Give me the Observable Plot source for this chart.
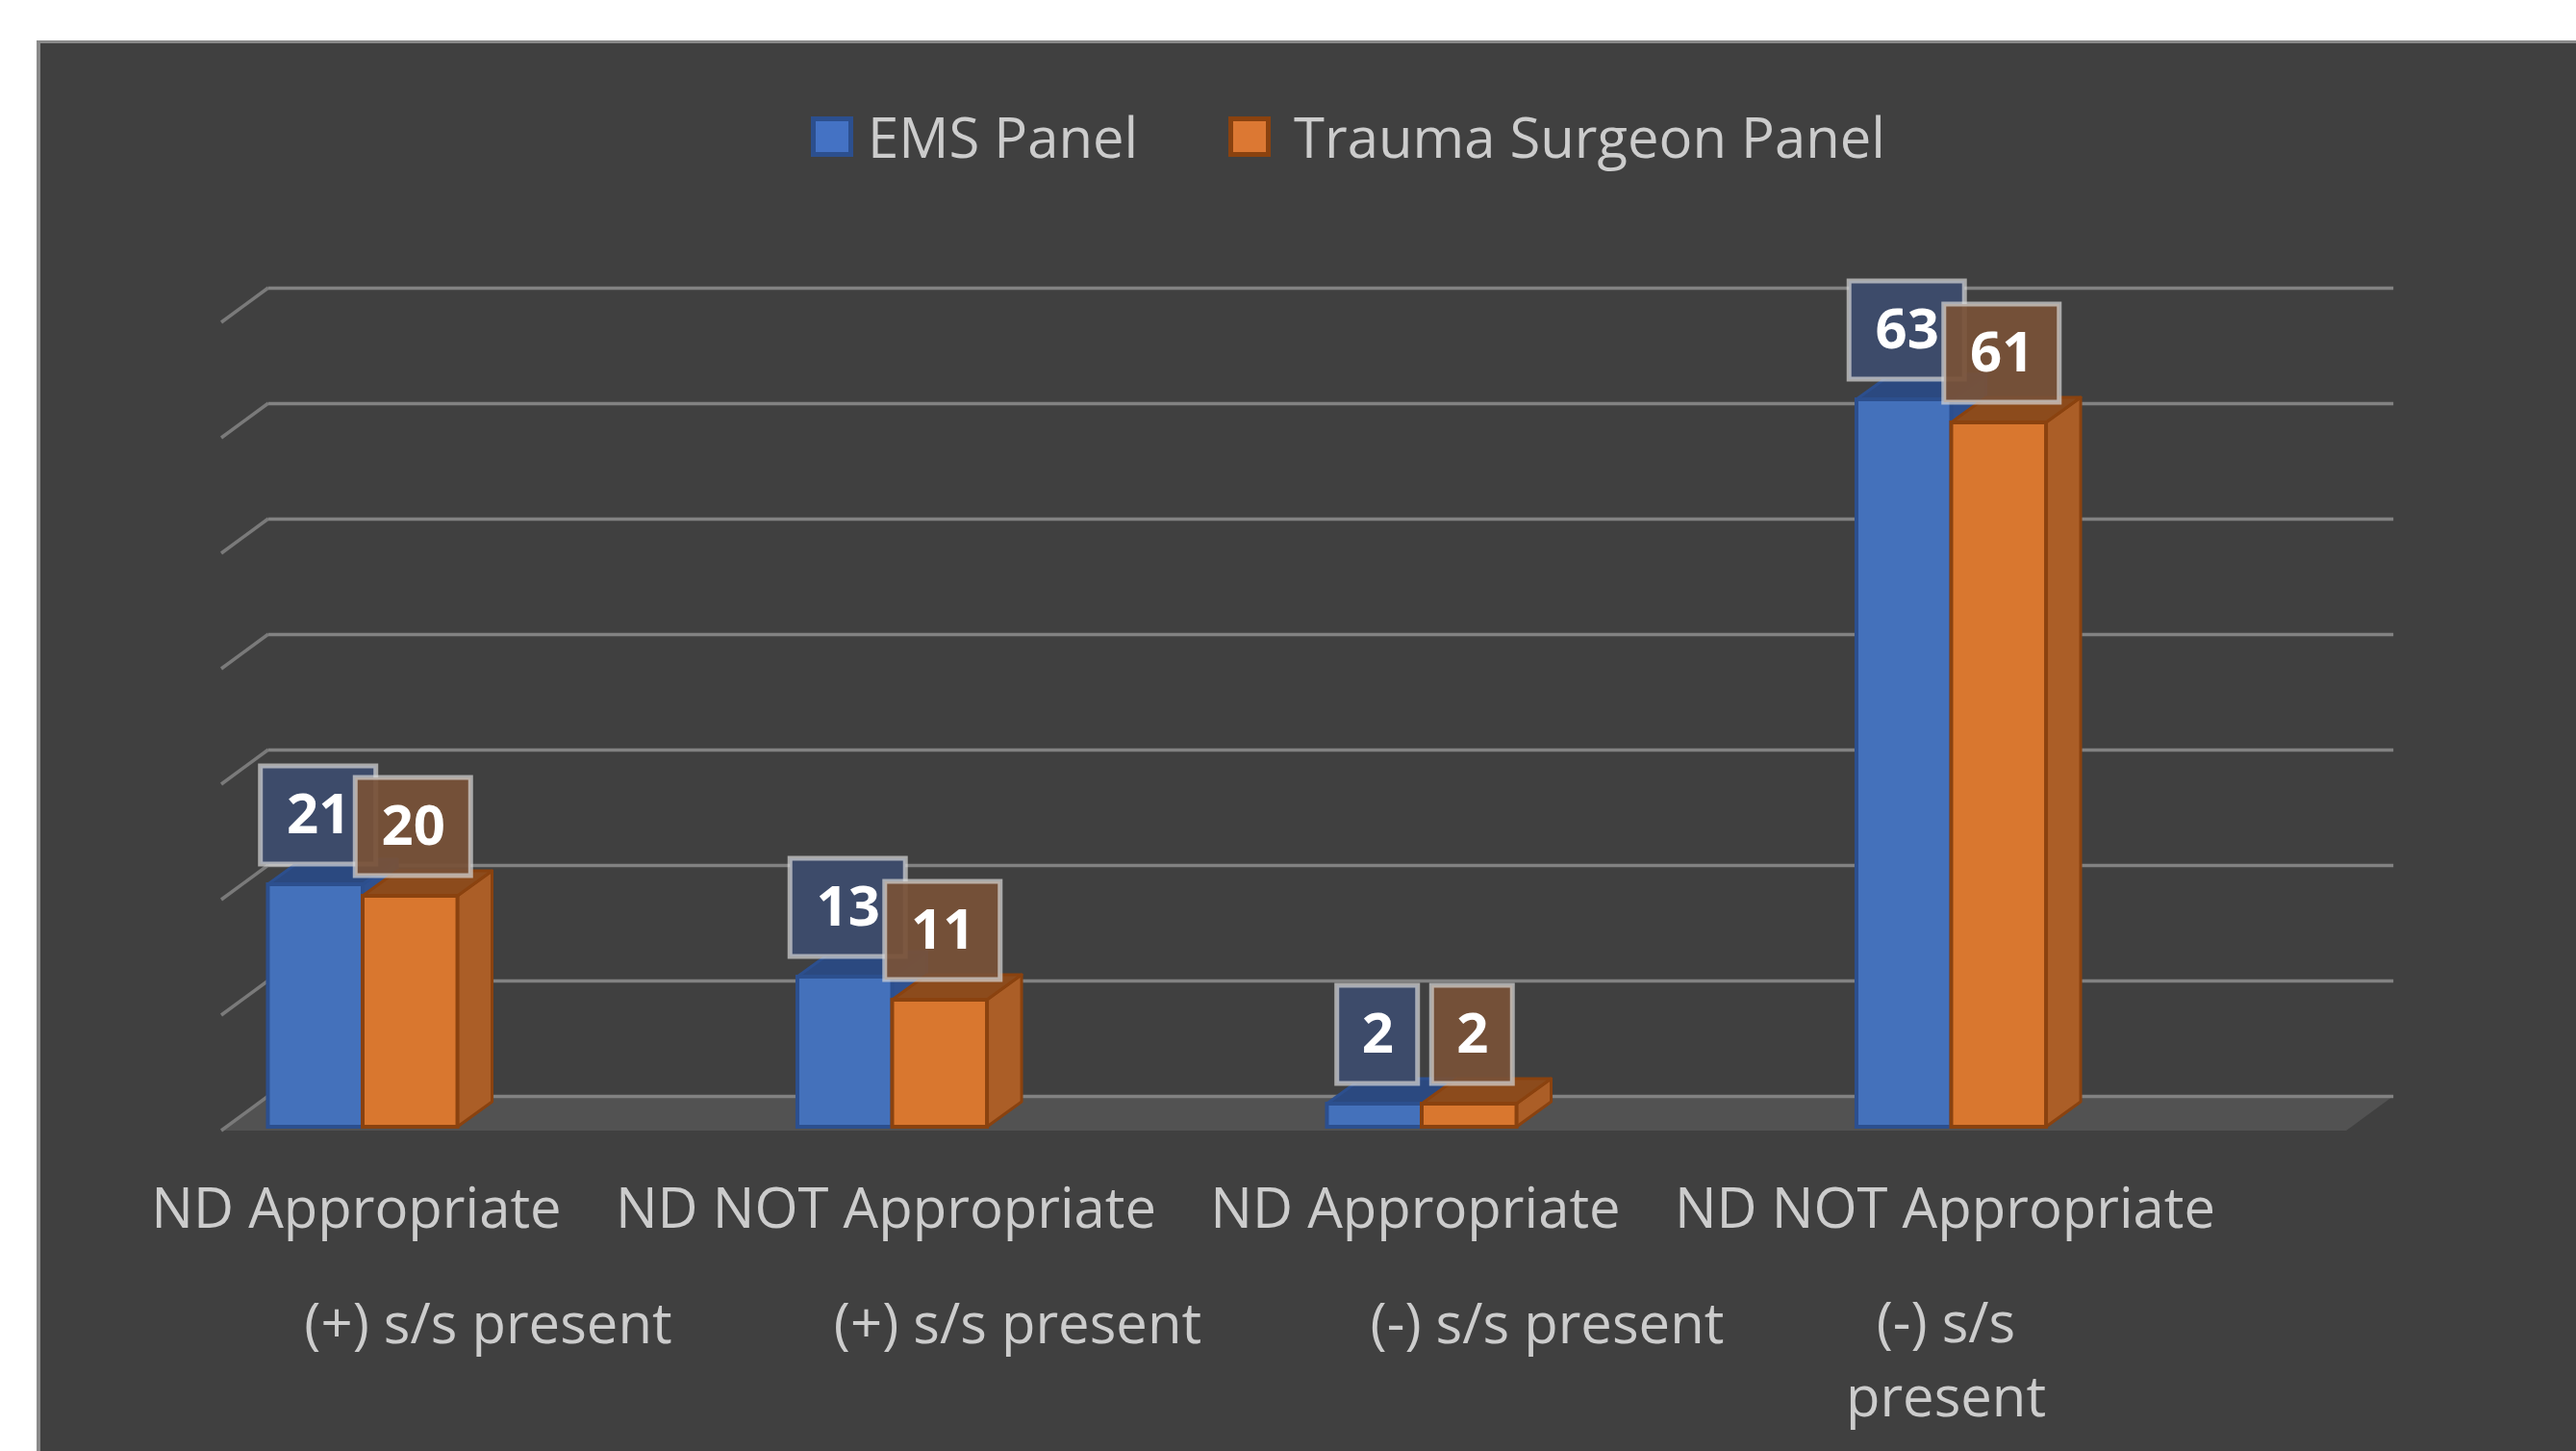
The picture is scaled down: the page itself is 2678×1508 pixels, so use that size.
<!DOCTYPE html>
<html>
<head>
<meta charset="utf-8">
<script src="https://cdn.jsdelivr.net/npm/d3@7"></script>
<script src="https://cdn.jsdelivr.net/npm/@observablehq/plot@0.6"></script>
<style>
  html, body { margin: 0; padding: 0; background: #ffffff; width: 2678px; height: 1508px; overflow: hidden; }
  #panel { position: absolute; left: 38px; top: 42px; width: 2640px; height: 1466px; background: #404040;
           box-shadow: inset 4px 3px 0 #8a8a8a; font-family: "Open Sans", sans-serif; }
  #legend { position: relative; height: 180px; }
  .item { position: absolute; top: 70px; height: 60px; display: flex; align-items: center;
          color: #cccccc; font-size: 58px; line-height: 1; white-space: nowrap; }
  .sw { width: 34px; height: 32px; border: 5px solid; box-sizing: content-box; }
  #chart svg { display: block; }
</style>
</head>
<body>
<div id="panel">
  <div id="legend"></div>
  <div id="chart"></div>
</div>
<script>
// ---------- data ----------
const line1Labels = ["ND Appropriate", "ND NOT Appropriate", "ND Appropriate", "ND NOT Appropriate"];
const line2Labels = ["(+) s/s present", "(+) s/s present", "(-) s/s present", "(-) s/s\npresent"];
const seriesNames = ["EMS Panel", "Trauma Surgeon Panel"];
const emsValues = [21, 13, 2, 63];
const traumaValues = [20, 11, 2, 61];
const gridTicks = [0, 10, 20, 30, 40, 50, 60, 70];

// ---------- styles ----------
const W = 2640, H = 1286;
const BAR_W = 0.179;                 // bar width in category units
const DEPTH = {dx: 36, dy: -26};     // 3D depth of bars (px)
const WALL = {x1: -0.178, x2: 3.835, dx: 49, dy: -32, front: 4};
const COLORS = [
  {front: "#4471bb", edge: "#2c4f8e", side: "#2f5190", top: "#2b4980", box: "#3d4b6a", legendFill: "#4472c4"},
  {front: "#d9772f", edge: "#8a420f", side: "#ab5e27", top: "#8c4b1c", box: "#785238", legendFill: "#dc7833"}
];

// legend
const legend = document.getElementById("legend");
const legendLeft = [805, 1239];
const legendGap = [15, 24];
seriesNames.forEach((name, s) => {
  const it = document.createElement("div");
  it.className = "item";
  it.style.left = legendLeft[s] + "px";
  const sw = document.createElement("div");
  sw.className = "sw";
  sw.style.background = COLORS[s].legendFill;
  sw.style.borderColor = COLORS[s].edge;
  sw.style.marginRight = legendGap[s] + "px";
  const tx = document.createElement("span");
  tx.textContent = name;
  it.appendChild(sw); it.appendChild(tx);
  legend.appendChild(it);
});

// table
const rows = [];
line1Labels.forEach((c, i) => {
  rows.push({i, s: 0, v: emsValues[i]});
  rows.push({i, s: 1, v: traumaValues[i]});
});
const cats = line1Labels.map((l, i) => ({i, l1: l, l2: line2Labels[i]}));
const bx1 = d => d.i + (d.s === 0 ? -BAR_W : 0);
const bx2 = d => d.i + (d.s === 0 ? 0 : BAR_W);
const bxc = d => d.i + (d.s === 0 ? -BAR_W / 2 : BAR_W / 2);

// floor + left stubs
function wallMark(index, scales) {
  const {x, y} = scales;
  const g = d3.create("svg:g");
  const xl = x(WALL.x1), xr = x(WALL.x2);
  const yb = y(0) + WALL.dy, yf = y(0) + WALL.front;
  g.append("path")
    .attr("d", `M${xl},${yb}H${xr}L${xr - WALL.dx},${yf}H${xl - WALL.dx}Z`)
    .attr("fill", "#525252");
  for (const t of gridTicks) {
    g.append("line")
      .attr("x1", xl - WALL.dx).attr("y1", y(t) + WALL.front)
      .attr("x2", xl).attr("y2", y(t) + WALL.dy)
      .attr("stroke", "#7a7a7a").attr("stroke-width", 3.5);
  }
  return g.node();
}

// 3D side + top faces
function depthMark(s) {
  return function (index, scales) {
    const {x, y} = scales;
    const g = d3.create("svg:g");
    for (const d of rows.filter(r => r.s === s)) {
      const a = x(bx1(d)), b = x(bx2(d)), t = y(d.v), z = y(0);
      g.append("path")
        .attr("d", `M${b},${z}L${b},${t}L${b + DEPTH.dx},${t + DEPTH.dy}L${b + DEPTH.dx},${z + DEPTH.dy}Z`)
        .attr("fill", COLORS[s].side).attr("stroke", COLORS[s].edge).attr("stroke-width", 3).attr("stroke-linejoin", "round");
      g.append("path")
        .attr("d", `M${a},${t}L${b},${t}L${b + DEPTH.dx},${t + DEPTH.dy}L${a + DEPTH.dx},${t + DEPTH.dy}Z`)
        .attr("fill", COLORS[s].top).attr("stroke", COLORS[s].edge).attr("stroke-width", 3).attr("stroke-linejoin", "round");
    }
    return g.node();
  };
}

// data-label boxes
function boxMark(s) {
  return function (index, scales) {
    const {x, y} = scales;
    const g = d3.create("svg:g");
    for (const d of rows.filter(r => r.s === s)) {
      const w = 48 + 36 * String(d.v).length, h = 102;
      const cx = x(bxc(d)) + 3, bottom = y(d.v) - 21;
      g.append("rect")
        .attr("x", cx - w / 2).attr("y", bottom - h).attr("width", w).attr("height", h)
        .attr("fill", COLORS[s].box).attr("fill-opacity", s === 1 ? 0.93 : 1)
        .attr("stroke", "rgba(215,215,215,0.7)").attr("stroke-width", 5);
    }
    return g.node();
  };
}

const marks = [
  wallMark,
  Plot.ruleY(gridTicks, {x1: () => WALL.x1, x2: () => WALL.x2, dy: WALL.dy, stroke: "#828282", strokeWidth: 3.5})
];
[0, 1].forEach(s => {
  const data = rows.filter(r => r.s === s);
  marks.push(depthMark(s));
  marks.push(Plot.rect(data, {x1: bx1, x2: bx2, y1: () => 0, y2: "v", fill: COLORS[s].front,
    stroke: COLORS[s].edge, strokeWidth: 4}));
});
[0, 1].forEach(s => {
  const data = rows.filter(r => r.s === s);
  marks.push(boxMark(s));
  marks.push(Plot.text(data, {x: bxc, y: "v", text: d => String(d.v), dx: 3, dy: -72,
    fill: "#ffffff", fontSize: 58, fontWeight: "bold", fontFamily: "Open Sans", textAnchor: "middle"}));
});
// category labels
marks.push(Plot.text(cats, {x: "i", y: () => 0, text: "l1", dx: -7, dy: 63, lineAnchor: "top",
  fill: "#cccccc", fontSize: 58, fontFamily: "Open Sans", textAnchor: "middle"}));
marks.push(Plot.text(cats.filter(c => !c.l2.includes("\n")), {x: "i", y: () => 0, text: "l2", dx: 130, dy: 183, lineAnchor: "top",
  fill: "#cccccc", fontSize: 58, fontFamily: "Open Sans", textAnchor: "middle"}));
marks.push(Plot.text(cats.filter(c => c.l2.includes("\n")), {x: "i", y: () => 0, text: "l2", dx: -6, dy: 169, lineAnchor: "top",
  lineHeight: 1.33, fill: "#cccccc", fontSize: 58, fontFamily: "Open Sans", textAnchor: "middle"}));

const chart = Plot.plot({
  width: W, height: H,
  marginLeft: 63.75, marginRight: 374.25, marginTop: 109, marginBottom: 337,
  x: {type: "linear", domain: [-0.5, 3.5], axis: null},
  y: {type: "linear", domain: [0, 70], axis: null},
  style: {background: "transparent", overflow: "visible", color: "#cccccc"},
  marks
});
document.getElementById("chart").appendChild(chart);
</script>
</body>
</html>
